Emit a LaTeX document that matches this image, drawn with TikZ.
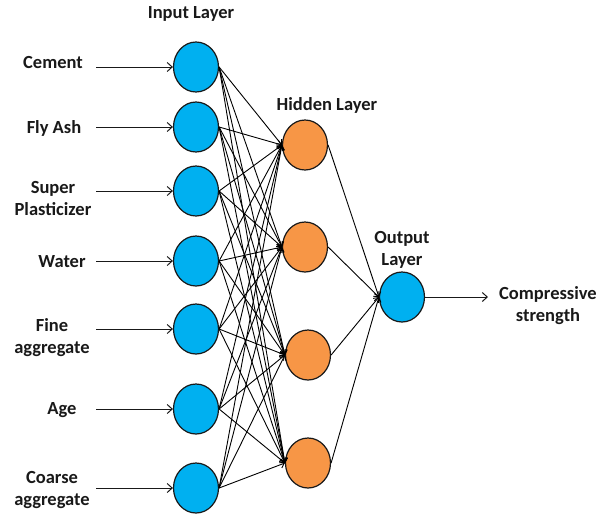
\documentclass[tikz,border=0pt]{standalone}
\usepackage{fontspec}
\setmainfont{Carlito}
\usepackage{xcolor}
\usepackage{tikz}
\usetikzlibrary{arrows.meta, shapes.geometric}
\definecolor{inblue}{HTML}{00B0F0}
\definecolor{hidorange}{HTML}{F79646}
\tikzset{
    neuron/.style={ellipse, draw=black!90, line width=1.2pt, minimum width=45pt, minimum height=50pt, inner sep=0pt},
    inNeuron/.style={neuron, fill=inblue},
    hidNeuron/.style={neuron, fill=hidorange},
    txt/.style={font=\fontsize{18.5}{22}\selectfont\bfseries, align=center, text=black!90},
    arrow/.style={-{Straight Barb[length=5pt, width=9pt]}, line width=1pt, draw=black!90},
    wire/.style={-{Straight Barb[length=4pt, width=7pt]}, line width=0.9pt, draw=black}
}

\begin{document}
\begin{tikzpicture}[x=1pt, y=-1pt]
        \useasboundingbox (0,0) rectangle (609,515);

        % Layer titles
        \node[txt] (InTitle) at (191,14) {Input Layer};
        \node[txt] (HidTitle) at (327,105) {Hidden Layer};
        \node[txt] (OutTitle) at (402,250) {Output\\Layer};

        % Input layer
        \foreach \i/\y/\ly/\lx/\name in {1/67/62/53/Cement, 2/127/128/54/Fly Ash, 3/191/198/53/{Super\\Plasticizer}, 4/261/262/62/Water, 5/329/338/52/{Fine\\aggregate}, 6/409/410/62/Age, 7/488/490/52/{Coarse\\aggregate}}{
            \node[inNeuron] (In\i) at (196,\y) {};
            \node[txt] (Lab\i) at (\lx,\ly) {\name};
            \coordinate (Src\i) at (96,\y);
            \draw[arrow] (Src\i) -- (In\i.west);
        }

        % Hidden layer
        \foreach \j/\x/\y in {1/305/145, 2/305/247, 3/308/355, 4/308/463}{
            \node[hidNeuron] (Hid\j) at (\x,\y) {};
        }

        % Output
        \node[inNeuron] (Out) at (402,297) {};
        \coordinate (Res) at (488,297);
        \node[txt] (ResLab) at (548,306) {Compressive\\strength};

        % Connections
        \foreach \i in {1,...,7}{
            \foreach \j in {1,...,4}{
                \draw[wire] (In\i.east) -- (Hid\j.west);
            }
        }
        \foreach \j in {1,...,4}{
            \draw[wire] (Hid\j.east) -- (Out.west);
        }
        \draw[arrow] (Out.east) -- (Res);

    \end{tikzpicture}
\end{document}
